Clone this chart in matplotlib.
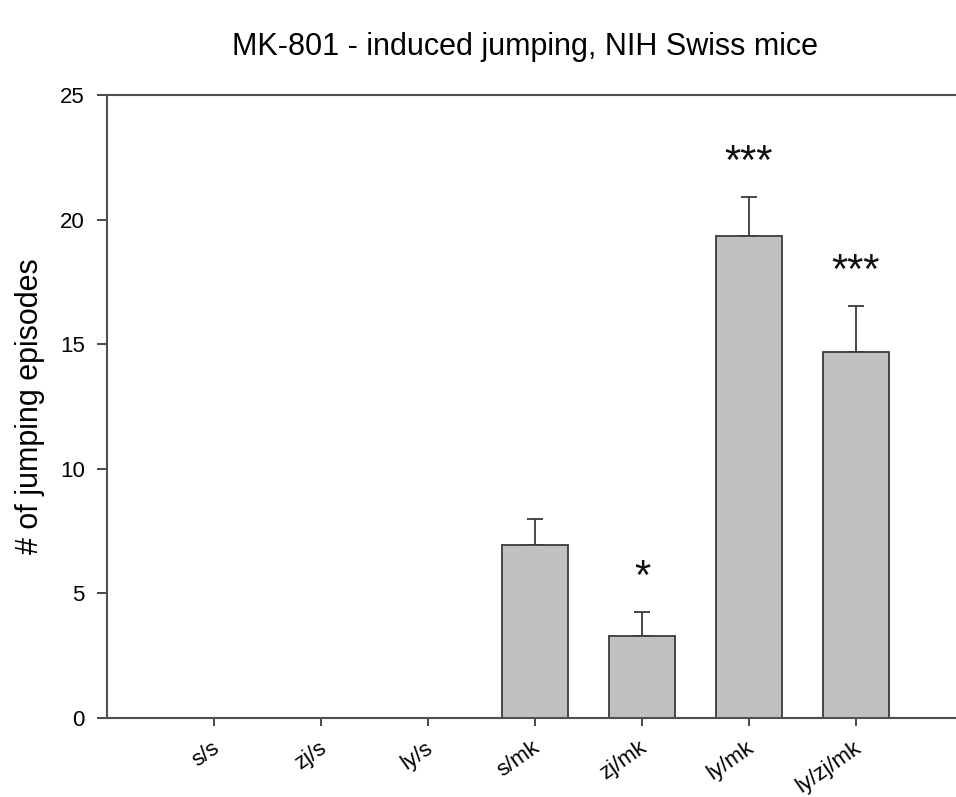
import matplotlib
matplotlib.use("Agg")
import matplotlib.pyplot as plt
import matplotlib.transforms as mtransforms
import numpy as np

plt.rcParams["font.family"] = ["Liberation Sans", "DejaVu Sans"]

categories = ["s/s", "zj/s", "ly/s", "s/mk", "zj/mk", "ly/mk", "ly/zj/mk"]
means = [0, 0, 0, 6.95, 3.3, 19.35, 14.67]
sems = [0, 0, 0, 1.05, 0.96, 1.57, 1.88]
stars = ["", "", "", "", "*", "***", "***"]

fig = plt.figure(figsize=(9.56, 7.97), dpi=100)
ax = fig.add_axes([107/956, 1-718/797, (963-107)/956, (718-95)/797])

x = np.arange(len(categories))
edge = "#3a3a3a"
ax.bar(x, means, width=0.61, color="#c0c0c0", edgecolor=edge, linewidth=1.3, zorder=2)
ax.errorbar(x[3:], means[3:], yerr=[[0]*4, sems[3:]], fmt="none", ecolor=edge,
            elinewidth=1.3, capsize=6, capthick=1.3, zorder=1)

for xi, m, s, st in zip(x, means, sems, stars):
    if st:
        ax.text(xi, m + s + 1.35, st, ha="center", va="center", fontsize=30, color="#111111")

ax.set_xlim(-1.0, 7.0)
ax.set_ylim(0, 25)
ax.set_yticks([0, 5, 10, 15, 20, 25])
ax.set_xticks(x)
ax.tick_params(axis="y", labelsize=16, length=7, width=1.3, color=edge, pad=9)
ax.tick_params(axis="x", length=6, width=1.3, color=edge, pad=8)
ax.set_xticklabels(categories, rotation=35, ha="right", fontsize=16)
offset = mtransforms.ScaledTranslation(9/100, 0, fig.dpi_scale_trans)
for lbl in ax.get_xticklabels():
    lbl.set_transform(lbl.get_transform() + offset)
ax.spines["right"].set_visible(False)
for s in ["left", "bottom", "top"]:
    ax.spines[s].set_color("#505050")
    ax.spines[s].set_linewidth(1.5)
ax.set_ylabel("# of jumping episodes", fontsize=22, labelpad=11)
fig.text(525/956, 1-47/797, "MK-801 - induced jumping, NIH Swiss mice", ha="center",
         va="center", fontsize=22)

fig.savefig("out.png", dpi=100)
